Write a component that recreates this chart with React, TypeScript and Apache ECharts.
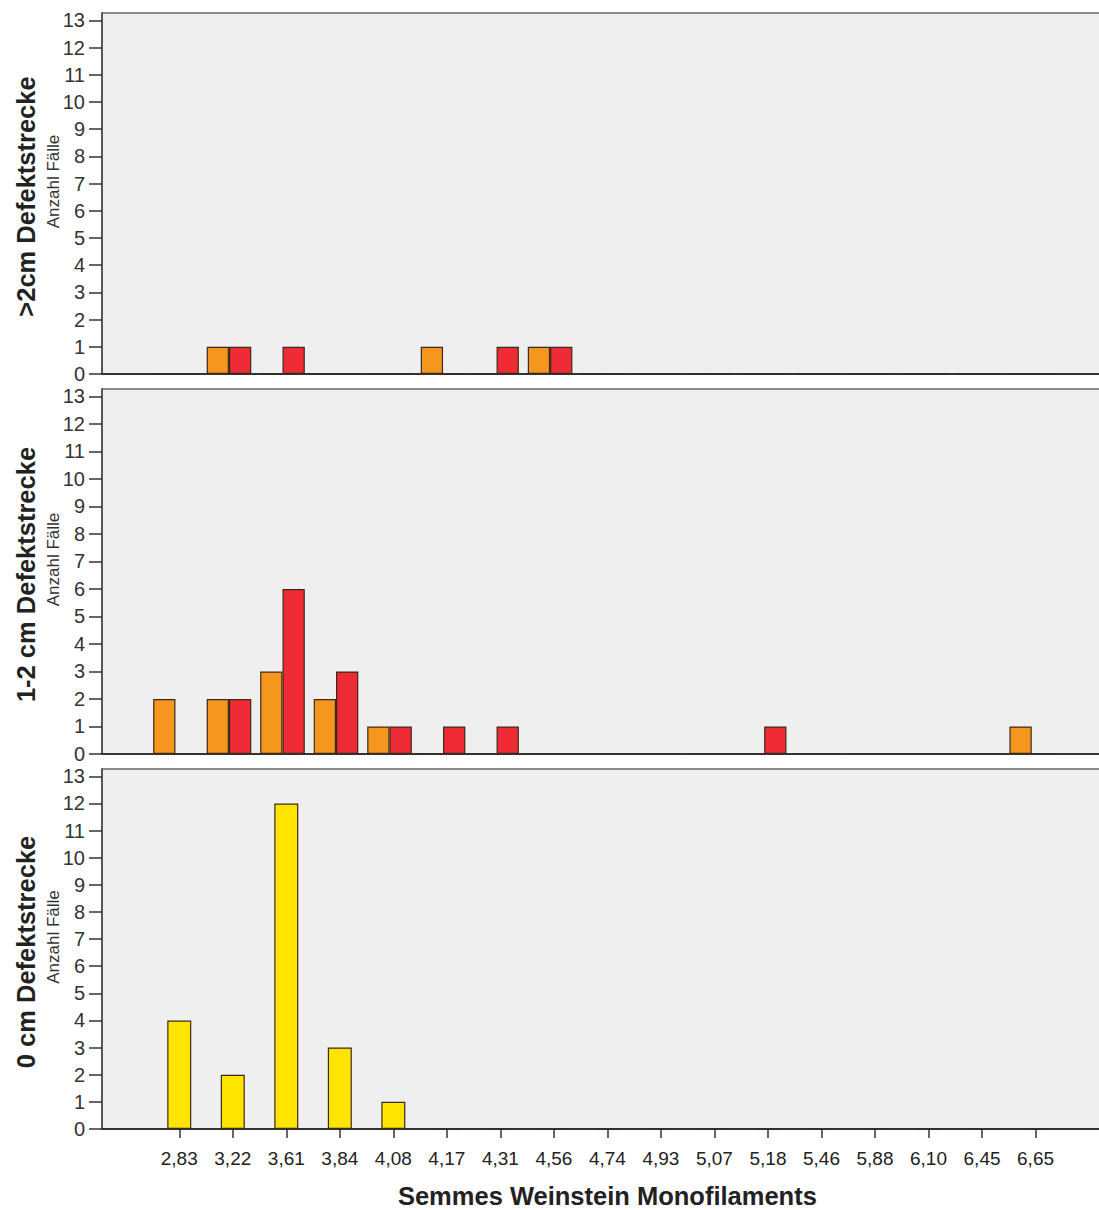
import React, { useEffect, useRef } from "react";
import * as echarts from "echarts";

// Monofilament thresholds (category axis)
const categories = [
  "2,83", "3,22", "3,61", "3,84", "4,08", "4,17", "4,31", "4,56", "4,74",
  "4,93", "5,07", "5,18", "5,46", "5,88", "6,10", "6,45", "6,65",
];

// Case counts per panel
const over2Orange = [0, 1, 0, 0, 0, 1, 0, 1, 0, 0, 0, 0, 0, 0, 0, 0, 0];
const over2Red = [0, 1, 1, 0, 0, 0, 1, 1, 0, 0, 0, 0, 0, 0, 0, 0, 0];
const mid12Orange = [2, 2, 3, 2, 1, 0, 0, 0, 0, 0, 0, 0, 0, 0, 0, 0, 1];
const mid12Red = [0, 2, 6, 3, 1, 1, 1, 0, 0, 0, 0, 1, 0, 0, 0, 0, 0];
const zeroYellow = [4, 2, 12, 3, 1, 0, 0, 0, 0, 0, 0, 0, 0, 0, 0, 0, 0];

const panelTitles = [">2cm Defektstrecke", "1-2 cm Defektstrecke", "0 cm Defektstrecke"];
const yAxisTitle = "Anzahl Fälle";
const xAxisTitle = "Semmes Weinstein Monofilaments";
const yTicks = [0, 1, 2, 3, 4, 5, 6, 7, 8, 9, 10, 11, 12, 13];

const FONT = '"Liberation Sans", Arial, Helvetica, sans-serif';
const ORANGE = "#F5961E";
const RED = "#EE2B35";
const YELLOW = "#FFE400";
const BAR_BORDER = "#3a2a1c";
const PLOT_BG = "#EFEFEF";
const Y_MAX = 13.27;

// Panel layout (pixels)
const panels = [
  { top: 13, height: 361, shift: 3.8 },
  { top: 389, height: 365, shift: 3.8 },
  { top: 769, height: 360, shift: 0 },
];
const FRAME_LEFT = 102;
const DATA_LEFT = 152.5;
const DATA_WIDTH = 909.8;

export default function App() {
  const ref = useRef<HTMLDivElement>(null);

  useEffect(() => {
    if (!ref.current) return;
    const chart = echarts.init(ref.current, undefined, { renderer: "svg" });

    const grid: any[] = [];
    const xAxis: any[] = [];
    const yAxis: any[] = [];
    const graphic: any[] = [];

    panels.forEach((p, i) => {
      const isBottom = i === panels.length - 1;
      // frame grid: background, top border, left axis, baseline
      grid.push({
        left: FRAME_LEFT,
        top: p.top,
        width: 1020,
        height: p.height,
        show: true,
        backgroundColor: PLOT_BG,
        borderColor: "#8a8a8a",
        borderWidth: 2,
        containLabel: false,
        outerBoundsMode: "none",
      });
      // data grid: category band for the bars
      grid.push({
        left: DATA_LEFT - p.shift,
        top: p.top,
        width: DATA_WIDTH,
        height: p.height,
        containLabel: false,
        outerBoundsMode: "none",
      });

      xAxis.push({
        type: "value",
        gridIndex: 2 * i,
        min: 0,
        max: 1,
        axisLine: { show: true, lineStyle: { color: "#333", width: 2 } },
        axisTick: { show: false },
        axisLabel: { show: false },
        splitLine: { show: false },
      });
      xAxis.push({
        type: "category",
        gridIndex: 2 * i + 1,
        data: categories,
        axisLine: { show: false },
        axisTick: {
          show: isBottom,
          alignWithLabel: true,
          length: 9,
          lineStyle: { color: "#333", width: 1.5 },
        },
        axisLabel: {
          show: isBottom,
          interval: 0,
          margin: 20,
          fontSize: 19,
          color: "#222",
          fontFamily: FONT,
        },
        name: isBottom ? xAxisTitle : "",
        nameLocation: "middle",
        nameGap: 54,
        nameTextStyle: {
          fontSize: 25.5,
          fontWeight: "bold",
          color: "#222",
          fontFamily: FONT,
        },
      });

      yAxis.push({
        type: "value",
        gridIndex: 2 * i,
        min: 0,
        max: Y_MAX,
        interval: 1,
        axisLine: { show: true, lineStyle: { color: "#444", width: 1.5 } },
        axisTick: {
          show: true,
          length: 13,
          customValues: yTicks,
          lineStyle: { color: "#333", width: 1.5 },
        },
        axisLabel: {
          show: true,
          customValues: yTicks,
          margin: 17,
          fontSize: 20,
          color: "#333",
          fontFamily: FONT,
        },
        splitLine: { show: false },
      });
      yAxis.push({
        type: "value",
        gridIndex: 2 * i + 1,
        min: 0,
        max: Y_MAX,
        show: false,
        splitLine: { show: false },
      });

      const center = p.top + p.height / 2;
      graphic.push({
        type: "text",
        x: 26,
        y: center + 3,
        rotation: Math.PI / 2,
        style: {
          text: panelTitles[i],
          fontSize: 25.5,
          fontWeight: "bold",
          fontFamily: FONT,
          fill: "#222",
          align: "center",
          verticalAlign: "middle",
        },
      });
      graphic.push({
        type: "text",
        x: 53,
        y: center - 12,
        rotation: Math.PI / 2,
        style: {
          text: yAxisTitle,
          fontSize: 17,
          fontFamily: FONT,
          fill: "#333",
          align: "center",
          verticalAlign: "middle",
        },
      });
    });

    const barStyle = (color: string) => ({
      color,
      borderColor: BAR_BORDER,
      borderWidth: 1.2,
    });

    const series: any[] = [
      { name: "orange", data: over2Orange, panel: 0, color: ORANGE },
      { name: "red", data: over2Red, panel: 0, color: RED },
      { name: "orange", data: mid12Orange, panel: 1, color: ORANGE },
      { name: "red", data: mid12Red, panel: 1, color: RED },
    ].map((s) => ({
      type: "bar",
      name: s.name,
      data: s.data,
      xAxisIndex: 2 * s.panel + 1,
      yAxisIndex: 2 * s.panel + 1,
      barWidth: 22.3,
      barGap: "0%",
      itemStyle: barStyle(s.color),
    }));
    series.push({
      type: "bar",
      name: "yellow",
      data: zeroYellow,
      xAxisIndex: 5,
      yAxisIndex: 5,
      barWidth: 24,
      itemStyle: barStyle(YELLOW),
    });

    chart.setOption({
      animation: false,
      backgroundColor: "#ffffff",
      textStyle: { fontFamily: FONT },
      grid,
      xAxis,
      yAxis,
      series,
      graphic,
    });

    return () => chart.dispose();
  }, []);

  return (
    <div
      ref={ref}
      style={{
        position: "absolute",
        left: 0,
        top: 0,
        width: 1099,
        height: 1210,
        overflow: "hidden",
        background: "#fff",
      }}
    />
  );
}
